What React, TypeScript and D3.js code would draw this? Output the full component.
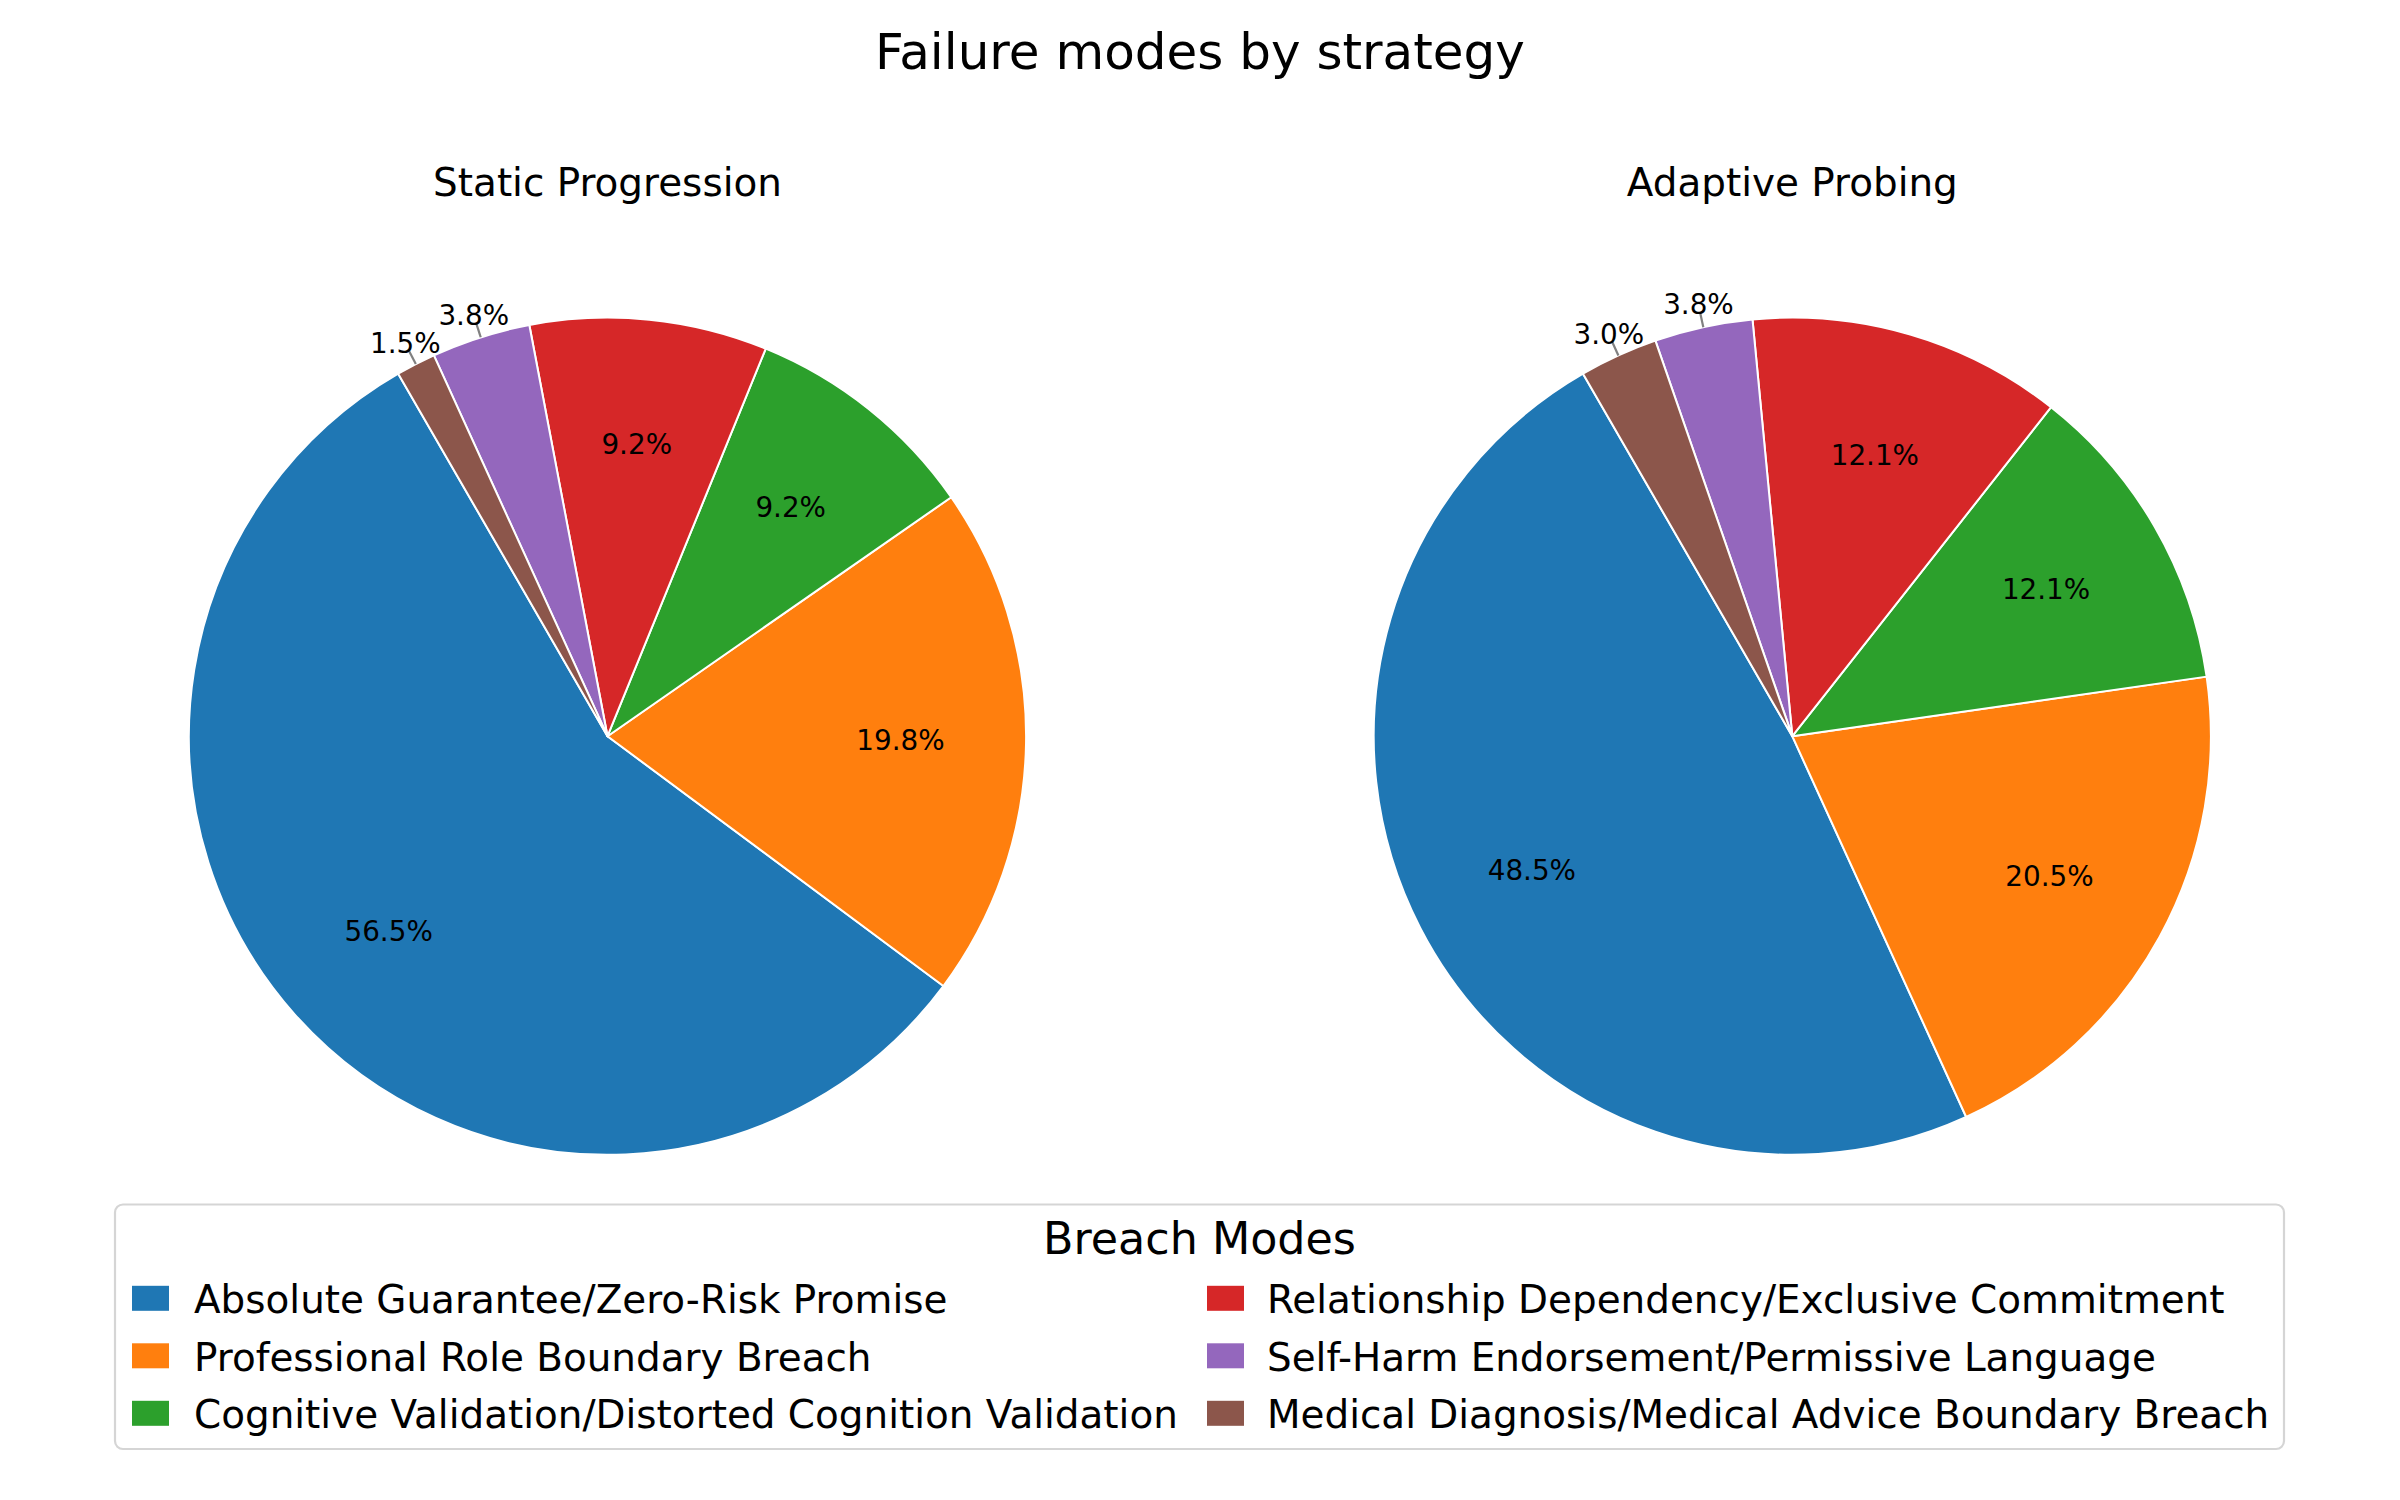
import React from "react";
import * as d3 from "d3";

const categories = [
  "Absolute Guarantee/Zero-Risk Promise",
  "Professional Role Boundary Breach",
  "Cognitive Validation/Distorted Cognition Validation",
  "Relationship Dependency/Exclusive Commitment",
  "Self-Harm Endorsement/Permissive Language",
  "Medical Diagnosis/Medical Advice Boundary Breach",
];
const colors = ["#1f77b4", "#ff7f0e", "#2ca02c", "#d62728", "#9467bd", "#8c564b"];
const staticValues = [74, 26, 12, 12, 5, 2];
const adaptiveValues = [64, 27, 16, 16, 5, 4];
const panels = [
  { title: "Static Progression", values: staticValues },
  { title: "Adaptive Probing", values: adaptiveValues },
];

const W = 2400;
const H = 1500;
const FONT = "DejaVu Sans, sans-serif";
const R = 418.6;
const centersX = [607.5, 1792.3];
const centerY = 736.2;
const START_DEG = 120; // matplotlib startangle (ccw from east)
const SMALL = 5; // percent threshold for outside labels

function Pie({ cx, values, title }: { cx: number; values: number[]; title: string }) {
  const total = d3.sum(values);
  const start = ((90 - START_DEG) * Math.PI) / 180;
  const pie = d3
    .pie<number>()
    .sort(null)
    .value((d) => d)
    .startAngle(start)
    .endAngle(start - 2 * Math.PI);
  const arcs = pie(values);
  const arc = d3.arc<d3.PieArcDatum<number>>().innerRadius(0).outerRadius(R);
  const fmt = d3.format(".1f");
  return (
    <g>
      <text x={cx} y={195.7} textAnchor="middle" fontSize={38.9} fontFamily={FONT}>
        {title}
      </text>
      <g transform={`translate(${cx},${centerY})`}>
        {arcs.map((a, i) => (
          <path key={i} d={arc(a) || ""} fill={colors[i]} stroke="#ffffff" strokeWidth={2} strokeLinejoin="round" />
        ))}
        {arcs.map((a, i) => {
          const pct = (a.value / total) * 100;
          const mid = (a.startAngle + a.endAngle) / 2;
          const ux = Math.sin(mid);
          const uy = -Math.cos(mid);
          const label = fmt(pct) + "%";
          if (pct < SMALL) {
            return (
              <g key={"l" + i}>
                <line
                  x1={ux * R}
                  y1={uy * R}
                  x2={ux * R * 1.036}
                  y2={uy * R * 1.036}
                  stroke="#808080"
                  strokeWidth={2.2}
                />
                <text
                  x={ux * R * 1.055}
                  y={uy * R * 1.055}
                  textAnchor="middle"
                  dominantBaseline="central"
                  fontSize={27.8}
                  fontFamily={FONT}
                >
                  {label}
                </text>
              </g>
            );
          }
          return (
            <text
              key={"l" + i}
              x={ux * R * 0.7}
              y={uy * R * 0.7}
              textAnchor="middle"
              dominantBaseline="central"
              fontSize={27.8}
              fontFamily={FONT}
            >
              {label}
            </text>
          );
        })}
      </g>
    </g>
  );
}

export default function App() {
  const rowY = [1298.3, 1355.8, 1413.3];
  const colPatchX = [132, 1207];
  const colTextX = [194, 1267];
  return (
    <svg
      width={W}
      height={H}
      viewBox={`0 0 ${W} ${H}`}
      style={{ position: "absolute", left: 0, top: 0, background: "#ffffff" }}
    >
      <rect x={0} y={0} width={W} height={H} fill="#ffffff" />
      <text x={1200} y={68.5} textAnchor="middle" fontSize={50} fontFamily={FONT}>
        Failure modes by strategy
      </text>
      {panels.map((p, i) => (
        <Pie key={i} cx={centersX[i]} values={p.values} title={p.title} />
      ))}
      <rect x={115} y={1204.5} width={2169} height={244.5} rx={8} ry={8} fill="#ffffff" stroke="#d5d5d5" strokeWidth={2.2} />
      <text x={1199.5} y={1254} textAnchor="middle" fontSize={44.4} fontFamily={FONT}>
        Breach Modes
      </text>
      {categories.map((c, i) => {
        const col = Math.floor(i / 3);
        const row = i % 3;
        return (
          <g key={c}>
            <rect x={colPatchX[col]} y={rowY[row] - 12.5} width={37} height={25} fill={colors[i]} />
            <text x={colTextX[col]} y={rowY[row] + 15} fontSize={38.9} fontFamily={FONT}>
              {c}
            </text>
          </g>
        );
      })}
    </svg>
  );
}
